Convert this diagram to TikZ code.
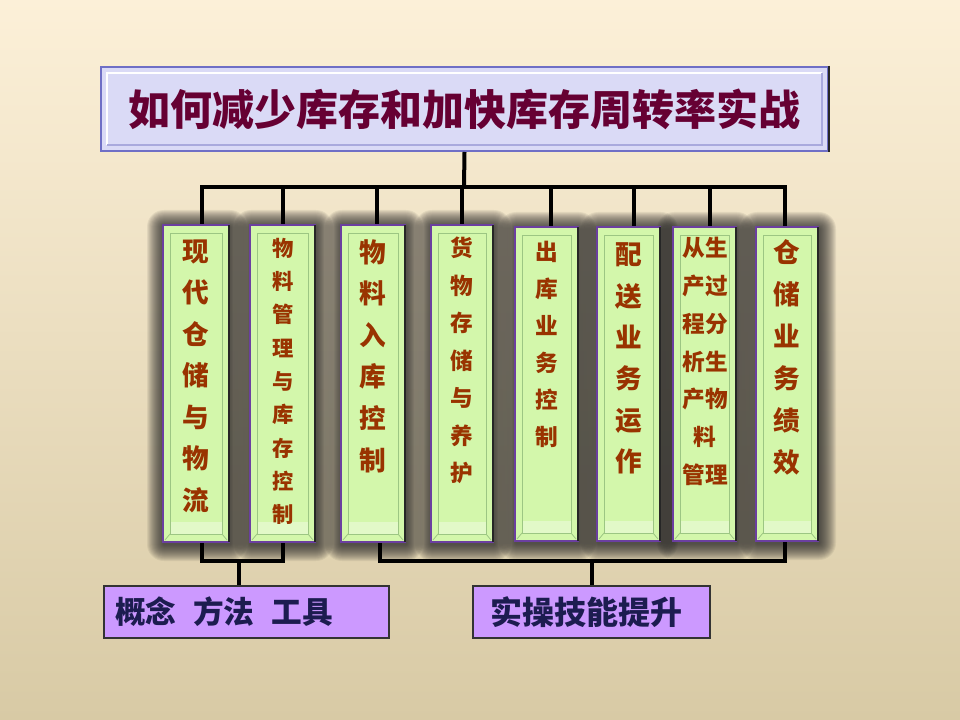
\documentclass[tikz,border=0pt]{standalone}
\usepackage{fontspec}
\newfontfamily\cjk{Noto Sans CJK SC}
\usetikzlibrary{calc}
\definecolor{bgtop}{HTML}{FCF0D8}
\definecolor{bgbot}{HTML}{D8CAA5}
\definecolor{colgreen}{HTML}{D3F7AB}
\definecolor{colpurple}{HTML}{6B3FA0}
\definecolor{coltext}{HTML}{993300}
\definecolor{bevelc}{HTML}{9CC683}
\definecolor{titlefill}{HTML}{DADAF6}
\definecolor{titledraw}{HTML}{6F6FC6}
\definecolor{titletext}{HTML}{660033}
\definecolor{lowfill}{HTML}{CC99FF}
\definecolor{lowtext}{HTML}{1C1C50}
\begin{document}
\begin{tikzpicture}[x=0.75pt,y=-0.75pt,
  colbox/.style={draw=colpurple, line width=1.9pt, fill=colgreen, inner sep=0pt},
  bevel/.style={draw=bevelc, line width=0.6pt},
  coltxt/.style 2 args={font=\cjk\bfseries\fontsize{#1}{#2}\selectfont, text=coltext, align=center, inner sep=0pt},
  titlebox/.style={draw=titledraw, line width=1.5pt, fill=titlefill, inner sep=0pt,
     font=\cjk\bfseries\fontsize{31.5}{36}\selectfont, text=titletext},
  lowbox/.style={draw=black!80, line width=0.8pt, fill=lowfill, inner ysep=0pt, align=left, text=lowtext},
  conn/.style={draw=black, line width=3pt, line join=miter}]
\shade[top color=bgtop, bottom color=bgbot] (0,0) rectangle (960,720);
\useasboundingbox (0,0) rectangle (960,720);

% title
\node[titlebox, minimum width=545.25pt, minimum height=63pt] (title) at (464.5,109)
  {如何减少库存和加快库存周转率实战};
\draw[draw=white, line width=0.8pt] (107,145) -- (107,73) -- (822,73);
\draw[draw=titledraw!60, line width=0.8pt] (107,145) -- (822,145) -- (822,73);
\draw[draw=black!85, line width=1.5pt] (title.north east) -- (title.south east);

% column shadows
\foreach \l/\t/\r/\b in {163/225/229/542, 250/225/315/542, 341/225/405/542, 431/225/493/542,
                         515/227/578/541, 597/227/660/541, 673/227/736/541, 756/227/818/541}{
  \foreach \s in {17,16,...,1}{
    \fill[black!85, opacity=0.075, rounded corners=\s*0.75pt]
      (\l-\s+1,\t-\s+2) rectangle (\r+\s+1,\b+\s+2);
  }
}

% columns
\foreach \n/\l/\t/\r/\b in {1/163/225/229/542, 2/250/225/315/542, 3/341/225/405/542, 4/431/225/493/542,
                            5/515/227/578/541, 6/597/227/660/541, 7/673/227/736/541, 8/756/227/818/541}{
  \node[colbox, minimum width={(\r-\l)*0.75pt}, minimum height={(\b-\t)*0.75pt}]
    (c\n) at ({(\l+\r)/2},{(\t+\b)/2}) {};
  \fill[white, opacity=0.35] (\l+7,\b-20) rectangle (\r-7,\b-8);
  \draw[bevel] (\l+7,\t+8) rectangle (\r-7,\b-8);
  \draw[bevel] (\l+2,\b-2) -- (\l+7,\b-8) (\r-2,\b-2) -- (\r-7,\b-8);
  \draw[draw=black!85, line width=1.6pt] (\r,\t) -- (\r,\b);
}

% column texts
\node[coltxt={20}{31.1pt}] (t1) at (196,376) {现\\代\\仓\\储\\与\\物\\流};
\node[coltxt={16}{25pt}] (t2) at (283,381.5) {物\\料\\管\\理\\与\\库\\存\\控\\制};
\node[coltxt={20}{31.2pt}] (t3) at (373,356) {物\\料\\入\\库\\控\\制};
\node[coltxt={17}{28.1pt}] (t4) at (462,360.5) {货\\物\\存\\储\\与\\养\\护};
\node[coltxt={17}{27.75pt}] (t5) at (547,344.5) {出\\库\\业\\务\\控\\制};
\node[coltxt={20}{31pt}] (t6) at (629,358.5) {配\\送\\业\\务\\运\\作};
\node[coltxt={17}{28.3pt}] (t7) at (705,361.5) {从生\\产过\\程分\\析生\\产物\\料\\管理};
\node[coltxt={20}{31.5pt}] (t8) at (787,357) {仓\\储\\业\\务\\绩\\效};

% bottom boxes
\node[lowbox, inner xsep=8.25pt, text width=197.25pt, minimum height=39pt,
      font=\cjk\bfseries\fontsize{23}{26}\selectfont] (low1) at (246.5,612)
  {概念\hspace{0.55em}方法\hspace{0.55em}工具};
\node[lowbox, inner xsep=12.75pt, text width=152.25pt, minimum height=39pt,
      font=\cjk\bfseries\fontsize{24}{28}\selectfont] (low2) at (591.5,612)
  {实操技能提升};

% connectors top
\coordinate (bus) at (464,187);
\draw[conn] (title.south) -- (bus);
\draw[conn] (bus) -| ([xshift=4.5pt]c1.north);
\draw[conn] (bus) -| (c2.north);
\draw[conn] (bus) -| ([xshift=3pt]c3.north);
\draw[conn] (bus) -- (c4.north |- bus) -- (c4.north);
\draw[conn] (bus) -| ([xshift=3.4pt]c5.north);
\draw[conn] (bus) -| ([xshift=4.1pt]c6.north);
\draw[conn] (bus) -| ([xshift=4.1pt]c7.north);
\draw[conn] (bus) -| ([xshift=-1.5pt]c8.north);

% connectors bottom
\coordinate (j1) at (239,561);
\coordinate (j2) at (592,561);
\draw[conn] ([xshift=4.5pt]c1.south) |- (j1);
\draw[conn] (c2.south) |- (j1);
\draw[conn] (j1) -- (j1 |- low1.north);
\draw[conn] ([xshift=5.25pt]c3.south) |- (j2);
\draw[conn] ([xshift=-1.5pt]c8.south) |- (j2);
\draw[conn] (j2) -- (j2 |- low2.north);
\end{tikzpicture}
\end{document}
